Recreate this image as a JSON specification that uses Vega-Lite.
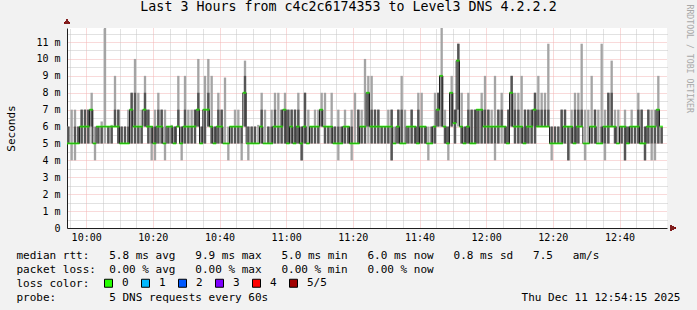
{
  "$schema": "https://vega.github.io/schema/vega-lite/v6.json",
  "width": 600,
  "height": 200,
  "autosize": "none",
  "padding": {"left": 67, "top": 28, "right": 30, "bottom": 82},
  "background": "#f2f2f2",
  "config": {
    "view": {"fill": "white", "stroke": null},
    "font": "DejaVu Sans Mono"
  },
  "title": {
    "text": "Last 3 Hours from c4c2c6174353 to Level3 DNS 4.2.2.2",
    "font": "DejaVu Sans Mono",
    "fontSize": 13.3,
    "fontWeight": "normal",
    "color": "black",
    "anchor": "middle",
    "frame": "group",
    "dx": -18.5,
    "offset": -20,
    "baseline": "alphabetic"
  },
  "data": {
    "format": {"parse": {"t": "date:'%H:%M'"}},
    "values": [
      {"t":"09:54","lo":5,"q1":5,"med":5,"q3":6,"hi":6},
      {"t":"09:55","lo":4,"q1":5,"med":5,"q3":5,"hi":7},
      {"t":"09:56","lo":4,"q1":5,"med":5,"q3":6,"hi":7},
      {"t":"09:57","lo":5,"q1":5,"med":5,"q3":6,"hi":6},
      {"t":"09:58","lo":5,"q1":5,"med":6,"q3":7,"hi":7},
      {"t":"09:59","lo":5,"q1":5,"med":6,"q3":7,"hi":7},
      {"t":"10:00","lo":5,"q1":5,"med":6,"q3":7,"hi":7},
      {"t":"10:01","lo":5,"q1":6,"med":7,"q3":7,"hi":8},
      {"t":"10:02","lo":4,"q1":5,"med":5,"q3":5,"hi":6},
      {"t":"10:03","lo":5,"q1":5,"med":6,"q3":6,"hi":6},
      {"t":"10:04","lo":5,"q1":5,"med":6,"q3":6,"hi":6.3},
      {"t":"10:05","lo":5,"q1":6,"med":6,"q3":6,"hi":11.9},
      {"t":"10:06","lo":5,"q1":5,"med":6,"q3":6,"hi":6},
      {"t":"10:07","lo":5,"q1":5,"med":6,"q3":6,"hi":6.1},
      {"t":"10:08","lo":6,"q1":6,"med":6,"q3":7,"hi":9},
      {"t":"10:09","lo":5,"q1":5,"med":6,"q3":7,"hi":7},
      {"t":"10:10","lo":5,"q1":5,"med":5,"q3":6,"hi":6},
      {"t":"10:11","lo":5,"q1":5,"med":5,"q3":6,"hi":6},
      {"t":"10:12","lo":5,"q1":5,"med":5,"q3":6,"hi":7},
      {"t":"10:13","lo":5,"q1":5,"med":7,"q3":8,"hi":8},
      {"t":"10:14","lo":5,"q1":5,"med":6,"q3":8,"hi":10},
      {"t":"10:15","lo":5,"q1":5,"med":6,"q3":6,"hi":8},
      {"t":"10:16","lo":5,"q1":5,"med":6,"q3":6,"hi":7},
      {"t":"10:17","lo":6,"q1":6,"med":7,"q3":8,"hi":9},
      {"t":"10:18","lo":5,"q1":5,"med":6,"q3":7,"hi":7},
      {"t":"10:19","lo":4,"q1":5,"med":6,"q3":6,"hi":6},
      {"t":"10:20","lo":4,"q1":5,"med":5,"q3":6,"hi":7},
      {"t":"10:21","lo":5,"q1":5,"med":6,"q3":7,"hi":8},
      {"t":"10:22","lo":5,"q1":5,"med":6,"q3":7,"hi":7},
      {"t":"10:23","lo":4,"q1":5,"med":5,"q3":5,"hi":7},
      {"t":"10:24","lo":5,"q1":5,"med":6,"q3":6,"hi":6},
      {"t":"10:25","lo":5,"q1":5,"med":6,"q3":6,"hi":6.1},
      {"t":"10:26","lo":5,"q1":5,"med":5,"q3":6,"hi":6},
      {"t":"10:27","lo":6,"q1":6,"med":6,"q3":7,"hi":9},
      {"t":"10:28","lo":4,"q1":5,"med":5,"q3":6,"hi":6},
      {"t":"10:29","lo":5,"q1":5,"med":6,"q3":7,"hi":9},
      {"t":"10:30","lo":5,"q1":5,"med":6,"q3":6,"hi":7},
      {"t":"10:31","lo":5,"q1":5,"med":6,"q3":6,"hi":7},
      {"t":"10:32","lo":5,"q1":5,"med":6,"q3":7,"hi":7},
      {"t":"10:33","lo":6,"q1":6,"med":7,"q3":8,"hi":10},
      {"t":"10:34","lo":5,"q1":5,"med":5,"q3":6,"hi":6},
      {"t":"10:35","lo":5,"q1":5,"med":7,"q3":7,"hi":9},
      {"t":"10:36","lo":6,"q1":6,"med":7,"q3":8,"hi":10},
      {"t":"10:37","lo":5,"q1":5,"med":6,"q3":6,"hi":9},
      {"t":"10:38","lo":5,"q1":5,"med":5,"q3":6,"hi":6},
      {"t":"10:39","lo":5,"q1":5,"med":6,"q3":7,"hi":8},
      {"t":"10:40","lo":5,"q1":5,"med":6,"q3":7,"hi":7},
      {"t":"10:41","lo":5,"q1":5,"med":5,"q3":5,"hi":8.9},
      {"t":"10:42","lo":4,"q1":5,"med":5,"q3":5,"hi":6},
      {"t":"10:43","lo":5,"q1":5,"med":6,"q3":6,"hi":6},
      {"t":"10:44","lo":5,"q1":5,"med":6,"q3":6,"hi":7},
      {"t":"10:45","lo":5,"q1":5,"med":6,"q3":6,"hi":7},
      {"t":"10:46","lo":4,"q1":5,"med":6,"q3":6,"hi":6},
      {"t":"10:47","lo":6,"q1":6,"med":8,"q3":9,"hi":9.9},
      {"t":"10:48","lo":4,"q1":5,"med":5,"q3":6,"hi":6},
      {"t":"10:49","lo":5,"q1":5,"med":5,"q3":6,"hi":6},
      {"t":"10:50","lo":5,"q1":5,"med":5,"q3":6,"hi":6},
      {"t":"10:51","lo":5,"q1":5,"med":5,"q3":5,"hi":6.1},
      {"t":"10:52","lo":5,"q1":5,"med":6,"q3":7,"hi":8},
      {"t":"10:53","lo":5,"q1":5,"med":5,"q3":5,"hi":7},
      {"t":"10:54","lo":5,"q1":5,"med":5,"q3":6,"hi":6},
      {"t":"10:55","lo":5,"q1":5,"med":5,"q3":6,"hi":7},
      {"t":"10:56","lo":5,"q1":5,"med":6,"q3":7,"hi":8},
      {"t":"10:57","lo":5,"q1":5,"med":6,"q3":6,"hi":8},
      {"t":"10:58","lo":5,"q1":5,"med":6,"q3":7,"hi":7},
      {"t":"10:59","lo":5,"q1":5,"med":7,"q3":7,"hi":8},
      {"t":"11:00","lo":5,"q1":5,"med":5,"q3":7,"hi":7},
      {"t":"11:01","lo":5,"q1":5,"med":6,"q3":7,"hi":7},
      {"t":"11:02","lo":5,"q1":5,"med":5,"q3":7,"hi":7},
      {"t":"11:03","lo":5,"q1":5,"med":6,"q3":7,"hi":8},
      {"t":"11:04","lo":4,"q1":4,"med":5,"q3":6,"hi":6},
      {"t":"11:05","lo":5,"q1":5,"med":6,"q3":8,"hi":8},
      {"t":"11:06","lo":5,"q1":5,"med":5,"q3":5,"hi":7},
      {"t":"11:07","lo":5,"q1":5,"med":6,"q3":6,"hi":6},
      {"t":"11:08","lo":5,"q1":5,"med":6,"q3":6,"hi":7},
      {"t":"11:09","lo":5,"q1":5,"med":6,"q3":6,"hi":7},
      {"t":"11:10","lo":6,"q1":6,"med":7,"q3":7,"hi":8},
      {"t":"11:11","lo":5,"q1":5,"med":6,"q3":6,"hi":8},
      {"t":"11:12","lo":5,"q1":5,"med":6,"q3":6,"hi":6},
      {"t":"11:13","lo":5,"q1":5,"med":6,"q3":6,"hi":8},
      {"t":"11:14","lo":5,"q1":5,"med":5,"q3":6,"hi":6},
      {"t":"11:15","lo":4,"q1":5,"med":5,"q3":6,"hi":7},
      {"t":"11:16","lo":5,"q1":5,"med":5,"q3":6,"hi":6},
      {"t":"11:17","lo":5,"q1":5,"med":6,"q3":6,"hi":7},
      {"t":"11:18","lo":5,"q1":5,"med":6,"q3":6,"hi":6},
      {"t":"11:19","lo":4,"q1":5,"med":5,"q3":6,"hi":7},
      {"t":"11:20","lo":5,"q1":5,"med":5,"q3":5,"hi":8},
      {"t":"11:21","lo":5,"q1":5,"med":5,"q3":7,"hi":7},
      {"t":"11:22","lo":5,"q1":5,"med":6,"q3":6,"hi":7},
      {"t":"11:23","lo":5,"q1":5,"med":6,"q3":6,"hi":10},
      {"t":"11:24","lo":5,"q1":6,"med":8,"q3":8,"hi":9},
      {"t":"11:25","lo":5,"q1":5,"med":6,"q3":7,"hi":9},
      {"t":"11:26","lo":5,"q1":5,"med":6,"q3":7,"hi":7},
      {"t":"11:27","lo":5,"q1":5,"med":6,"q3":7,"hi":7},
      {"t":"11:28","lo":5,"q1":5,"med":6,"q3":6,"hi":6},
      {"t":"11:29","lo":5,"q1":5,"med":6,"q3":6,"hi":6},
      {"t":"11:30","lo":5,"q1":5,"med":6,"q3":6,"hi":7},
      {"t":"11:31","lo":4,"q1":4,"med":6,"q3":7,"hi":7},
      {"t":"11:32","lo":5,"q1":5,"med":5,"q3":5,"hi":6},
      {"t":"11:33","lo":5,"q1":5,"med":6,"q3":7,"hi":7},
      {"t":"11:34","lo":5,"q1":5,"med":5,"q3":7,"hi":9},
      {"t":"11:35","lo":5,"q1":5,"med":5,"q3":5,"hi":7},
      {"t":"11:36","lo":5,"q1":5,"med":6,"q3":6,"hi":6},
      {"t":"11:37","lo":5,"q1":5,"med":6,"q3":7,"hi":7},
      {"t":"11:38","lo":5,"q1":5,"med":6,"q3":6,"hi":6},
      {"t":"11:39","lo":5,"q1":5,"med":5,"q3":7,"hi":8},
      {"t":"11:40","lo":5,"q1":5,"med":6,"q3":6,"hi":8},
      {"t":"11:41","lo":5,"q1":5,"med":6,"q3":6,"hi":6},
      {"t":"11:42","lo":4,"q1":5,"med":5,"q3":5,"hi":6},
      {"t":"11:43","lo":5,"q1":5,"med":5,"q3":6,"hi":6},
      {"t":"11:44","lo":5,"q1":5,"med":6,"q3":6,"hi":8},
      {"t":"11:45","lo":6,"q1":6,"med":7,"q3":8,"hi":8},
      {"t":"11:46","lo":6,"q1":6,"med":9,"q3":9,"hi":11.9},
      {"t":"11:47","lo":5,"q1":5,"med":6,"q3":6,"hi":7},
      {"t":"11:48","lo":4,"q1":5,"med":5,"q3":6,"hi":6},
      {"t":"11:49","lo":6,"q1":6,"med":8,"q3":8,"hi":9},
      {"t":"11:50","lo":5,"q1":5,"med":6.2,"q3":7,"hi":7},
      {"t":"11:51","lo":6,"q1":7,"med":9.9,"q3":10.9,"hi":10.9},
      {"t":"11:52","lo":5,"q1":5,"med":6,"q3":6,"hi":8},
      {"t":"11:53","lo":5,"q1":5,"med":5,"q3":6,"hi":6},
      {"t":"11:54","lo":5,"q1":5,"med":6,"q3":7,"hi":8},
      {"t":"11:55","lo":5,"q1":5,"med":5,"q3":7,"hi":7},
      {"t":"11:56","lo":5,"q1":5,"med":5,"q3":7,"hi":7},
      {"t":"11:57","lo":5,"q1":5,"med":7,"q3":7,"hi":7},
      {"t":"11:58","lo":5,"q1":5,"med":7,"q3":7,"hi":8},
      {"t":"11:59","lo":5,"q1":5,"med":6,"q3":7,"hi":9},
      {"t":"12:00","lo":5,"q1":5,"med":6,"q3":7,"hi":7},
      {"t":"12:01","lo":5,"q1":5,"med":6,"q3":6,"hi":7},
      {"t":"12:02","lo":4,"q1":5,"med":6,"q3":6,"hi":9},
      {"t":"12:03","lo":5,"q1":5,"med":6,"q3":7,"hi":7},
      {"t":"12:04","lo":5,"q1":6,"med":6,"q3":7,"hi":8},
      {"t":"12:05","lo":5,"q1":5,"med":6,"q3":6,"hi":6},
      {"t":"12:06","lo":5,"q1":5,"med":5,"q3":7,"hi":7},
      {"t":"12:07","lo":6,"q1":6,"med":8,"q3":9,"hi":9},
      {"t":"12:08","lo":5,"q1":5,"med":6,"q3":7,"hi":8},
      {"t":"12:09","lo":5,"q1":5,"med":6,"q3":7,"hi":8},
      {"t":"12:10","lo":5,"q1":5,"med":6,"q3":6,"hi":9},
      {"t":"12:11","lo":5,"q1":5,"med":5,"q3":7,"hi":7},
      {"t":"12:12","lo":5,"q1":5,"med":6,"q3":7,"hi":7},
      {"t":"12:13","lo":5,"q1":5,"med":6,"q3":7,"hi":7},
      {"t":"12:14","lo":5,"q1":5,"med":7,"q3":8,"hi":8},
      {"t":"12:15","lo":6,"q1":6,"med":6,"q3":7,"hi":9},
      {"t":"12:16","lo":6,"q1":6,"med":6,"q3":7,"hi":8},
      {"t":"12:17","lo":6,"q1":6,"med":6,"q3":7,"hi":8},
      {"t":"12:18","lo":6,"q1":6,"med":6,"q3":7,"hi":10.9},
      {"t":"12:19","lo":4,"q1":5,"med":5,"q3":6,"hi":6},
      {"t":"12:20","lo":5,"q1":5,"med":5,"q3":6,"hi":6},
      {"t":"12:21","lo":5,"q1":5,"med":5,"q3":6,"hi":6},
      {"t":"12:22","lo":5,"q1":5,"med":5,"q3":7,"hi":7},
      {"t":"12:23","lo":5,"q1":5,"med":6,"q3":7,"hi":7},
      {"t":"12:24","lo":4,"q1":4,"med":6,"q3":6,"hi":6},
      {"t":"12:25","lo":5,"q1":5,"med":6,"q3":6,"hi":7},
      {"t":"12:26","lo":5,"q1":5,"med":5,"q3":7,"hi":8},
      {"t":"12:27","lo":5,"q1":5,"med":6,"q3":7,"hi":8},
      {"t":"12:28","lo":6,"q1":6,"med":6,"q3":7,"hi":10.9},
      {"t":"12:29","lo":4,"q1":5,"med":5,"q3":5,"hi":7},
      {"t":"12:30","lo":5,"q1":5,"med":5,"q3":5,"hi":7},
      {"t":"12:31","lo":5,"q1":5,"med":6,"q3":6,"hi":9},
      {"t":"12:32","lo":5,"q1":5,"med":6,"q3":7,"hi":7},
      {"t":"12:33","lo":5,"q1":5,"med":5,"q3":5,"hi":7},
      {"t":"12:34","lo":5,"q1":5,"med":5,"q3":6,"hi":10.9},
      {"t":"12:35","lo":4,"q1":5,"med":6,"q3":6,"hi":7},
      {"t":"12:36","lo":5,"q1":5,"med":6,"q3":8,"hi":8},
      {"t":"12:37","lo":6,"q1":6,"med":6,"q3":8,"hi":9.9},
      {"t":"12:38","lo":5,"q1":5,"med":6,"q3":6,"hi":7},
      {"t":"12:39","lo":5,"q1":5,"med":5,"q3":5,"hi":7},
      {"t":"12:40","lo":5,"q1":5,"med":6,"q3":6,"hi":6},
      {"t":"12:41","lo":4,"q1":4,"med":6,"q3":6,"hi":7},
      {"t":"12:42","lo":5,"q1":5,"med":5,"q3":6,"hi":6},
      {"t":"12:43","lo":5,"q1":5,"med":6,"q3":6,"hi":7},
      {"t":"12:44","lo":5,"q1":5,"med":6,"q3":6,"hi":6},
      {"t":"12:45","lo":5,"q1":5,"med":6,"q3":7,"hi":8},
      {"t":"12:46","lo":5,"q1":5,"med":5,"q3":7,"hi":7},
      {"t":"12:47","lo":4,"q1":4,"med":5,"q3":6,"hi":6},
      {"t":"12:48","lo":5,"q1":5,"med":6,"q3":7,"hi":7},
      {"t":"12:49","lo":4,"q1":5,"med":6,"q3":6,"hi":7},
      {"t":"12:50","lo":4,"q1":5,"med":6,"q3":6,"hi":7},
      {"t":"12:51","lo":5,"q1":5,"med":7,"q3":7,"hi":9},
      {"t":"12:52","lo":5,"q1":5,"med":6,"q3":6,"hi":6}
    ]
  },
  "resolve": {"axis": {"x": "independent", "y": "independent"}},
  "layer": [
    {
      "mark": {"type": "bar", "color": "#a4a4a4", "clip": true},
      "encoding": {
        "x": {
          "field": "t", "timeUnit": "yearmonthdatehoursminutes", "type": "temporal",
          "scale": {"domain": [
            {"year": 1900, "month": 1, "date": 1, "hours": 9, "minutes": 54, "seconds": 15},
            {"year": 1900, "month": 1, "date": 1, "hours": 12, "minutes": 54, "seconds": 15}
          ]},
          "axis": {
            "orient": "top",
            "values": [
              {"year":1900,"month":1,"date":1,"hours":9,"minutes":55},
              {"year":1900,"month":1,"date":1,"hours":10,"minutes":5},
              {"year":1900,"month":1,"date":1,"hours":10,"minutes":10},
              {"year":1900,"month":1,"date":1,"hours":10,"minutes":15},
              {"year":1900,"month":1,"date":1,"hours":10,"minutes":25},
              {"year":1900,"month":1,"date":1,"hours":10,"minutes":30},
              {"year":1900,"month":1,"date":1,"hours":10,"minutes":35},
              {"year":1900,"month":1,"date":1,"hours":10,"minutes":45},
              {"year":1900,"month":1,"date":1,"hours":10,"minutes":50},
              {"year":1900,"month":1,"date":1,"hours":10,"minutes":55},
              {"year":1900,"month":1,"date":1,"hours":11,"minutes":5},
              {"year":1900,"month":1,"date":1,"hours":11,"minutes":10},
              {"year":1900,"month":1,"date":1,"hours":11,"minutes":15},
              {"year":1900,"month":1,"date":1,"hours":11,"minutes":25},
              {"year":1900,"month":1,"date":1,"hours":11,"minutes":30},
              {"year":1900,"month":1,"date":1,"hours":11,"minutes":35},
              {"year":1900,"month":1,"date":1,"hours":11,"minutes":45},
              {"year":1900,"month":1,"date":1,"hours":11,"minutes":50},
              {"year":1900,"month":1,"date":1,"hours":11,"minutes":55},
              {"year":1900,"month":1,"date":1,"hours":12,"minutes":5},
              {"year":1900,"month":1,"date":1,"hours":12,"minutes":10},
              {"year":1900,"month":1,"date":1,"hours":12,"minutes":15},
              {"year":1900,"month":1,"date":1,"hours":12,"minutes":25},
              {"year":1900,"month":1,"date":1,"hours":12,"minutes":30},
              {"year":1900,"month":1,"date":1,"hours":12,"minutes":35},
              {"year":1900,"month":1,"date":1,"hours":12,"minutes":45},
              {"year":1900,"month":1,"date":1,"hours":12,"minutes":50}
            ],
            "grid": true, "gridColor": "#c4c4c4", "gridDash": [1, 1],
            "labels": false, "ticks": false, "domain": false,
            "title": "Thu Dec 11 12:54:15 2025",
            "titleFont": "DejaVu Sans Mono", "titleFontSize": 11, "titleFontWeight": "normal", "titleColor": "black",
            "titleAlign": "right", "titleAnchor": "end", "titleBaseline": "alphabetic",
            "titleX": 613, "titleY": 272
          }
        },
        "y": {
          "field": "lo", "type": "quantitative",
          "scale": {"domain": [0, 11.83], "nice": false, "zero": false},
          "axis": {
            "orient": "right",
            "values": [0.5, 1.5, 2.5, 3.5, 4.5, 5.5, 6.5, 7.5, 8.5, 9.5, 10.5, 11.5],
            "grid": true, "gridColor": "#c4c4c4", "gridDash": [1, 1],
            "labels": false, "ticks": false, "domain": false,
            "title": "RRDTOOL / TOBI OETIKER",
            "titleFont": "DejaVu Sans Mono", "titleFontSize": 8.2, "titleFontWeight": "normal", "titleColor": "#a8a8a8",
            "titleAngle": 90, "titleAlign": "left", "titleBaseline": "middle",
            "titleX": 21, "titleY": -24
          }
        },
        "y2": {"field": "hi"}
      }
    },
    {
      "mark": {"type": "bar", "color": "#555555", "clip": true},
      "encoding": {
        "x": {
          "field": "t", "timeUnit": "yearmonthdatehoursminutes", "type": "temporal",
          "axis": {
            "orient": "bottom",
            "format": "%H:%M",
            "values": [
              {"year":1900,"month":1,"date":1,"hours":10,"minutes":0},
              {"year":1900,"month":1,"date":1,"hours":10,"minutes":20},
              {"year":1900,"month":1,"date":1,"hours":10,"minutes":40},
              {"year":1900,"month":1,"date":1,"hours":11,"minutes":0},
              {"year":1900,"month":1,"date":1,"hours":11,"minutes":20},
              {"year":1900,"month":1,"date":1,"hours":11,"minutes":40},
              {"year":1900,"month":1,"date":1,"hours":12,"minutes":0},
              {"year":1900,"month":1,"date":1,"hours":12,"minutes":20},
              {"year":1900,"month":1,"date":1,"hours":12,"minutes":40}
            ],
            "grid": true, "gridColor": "#f2b4b4", "gridDash": [1, 1],
            "ticks": false, "labelOverlap": false, "labelFlush": false,
            "labelFont": "DejaVu Sans Mono", "labelFontSize": 10, "labelColor": "black", "labelPadding": 4,
            "domainColor": "#1f1f1f",
            "title": [
              "median rtt:\u00a0\u00a0\u00a05.8 ms avg\u00a0\u00a0\u00a09.9 ms max\u00a0\u00a0\u00a05.0 ms min\u00a0\u00a0\u00a06.0 ms now\u00a0\u00a0\u00a00.8 ms sd\u00a0\u00a0\u00a07.5\u00a0\u00a0\u00a0am/s",
              "packet loss:\u00a0\u00a00.00 % avg\u00a0\u00a0\u00a00.00 % max\u00a0\u00a0\u00a00.00 % min\u00a0\u00a0\u00a00.00 % now",
              "loss color:",
              "probe:\u00a0\u00a0\u00a0\u00a0\u00a0\u00a0\u00a0\u00a05 DNS requests every 60s"
            ],
            "titleFont": "DejaVu Sans Mono", "titleFontSize": 11, "titleFontWeight": "normal", "titleColor": "black",
            "titleAlign": "left", "titleAnchor": "start", "titleBaseline": "alphabetic", "titleLineHeight": 14,
            "titleX": -51, "titleY": 30.5
          }
        },
        "y": {
          "field": "q1", "type": "quantitative",
          "axis": {
            "orient": "left",
            "values": [0, 1, 2, 3, 4, 5, 6, 7, 8, 9, 10, 11],
            "labelExpr": "datum.value == 0 ? '0' : datum.value + ' m'",
            "grid": true, "gridColor": "#f2b4b4", "gridDash": [1, 1],
            "ticks": false, "labelFont": "DejaVu Sans Mono", "labelFontSize": 10, "labelColor": "black", "labelPadding": 7,
            "domainColor": "#1f1f1f",
            "title": "Seconds",
            "titleFont": "DejaVu Sans Mono", "titleFontSize": 11, "titleFontWeight": "normal", "titleColor": "black",
            "titleAngle": -90, "titleAlign": "center", "titleBaseline": "middle",
            "titleX": -56, "titleY": 100
          }
        },
        "y2": {"field": "q3"}
      }
    },
    {
      "mark": {"type": "line", "interpolate": "step-after", "color": "#202020", "strokeWidth": 1, "clip": true},
      "encoding": {
        "x": {"field": "t", "type": "temporal", "axis": null},
        "y": {"field": "med", "type": "quantitative", "axis": null}
      }
    },
    {
      "mark": {"type": "tick", "orient": "horizontal", "thickness": 2, "size": 3.4, "clip": true},
      "encoding": {
        "x": {"field": "t", "timeUnit": "yearmonthdatehoursminutes", "type": "temporal", "bandPosition": 0.5, "axis": null},
        "y": {"field": "med", "type": "quantitative", "axis": null},
        "color": {
          "datum": "0", "type": "nominal",
          "scale": {
            "domain": ["0", "1", "2", "3", "4", "5/5"],
            "range": ["#26ff00", "#00b8ff", "#0059ff", "#7e00ff", "#ff0000", "#a10000"]
          },
          "legend": {
            "orient": "none", "legendX": 36, "legendY": 249.5,
            "direction": "horizontal", "title": null,
            "labelFont": "DejaVu Sans Mono", "labelFontSize": 11, "labelColor": "black",
            "symbolType": "square", "symbolSize": 64, "symbolStrokeColor": "black", "symbolStrokeWidth": 1,
            "symbolOpacity": 1, "labelOffset": 8, "columnPadding": 10, "padding": 0
          }
        }
      }
    },
    {
      "mark": {"type": "point", "shape": "triangle-up", "filled": true, "color": "#801f1f", "size": 30, "opacity": 1, "clip": false},
      "encoding": {
        "x": {"datum": {"year": 1900, "month": 1, "date": 1, "hours": 9, "minutes": 54, "seconds": 15}, "type": "temporal", "axis": null},
        "y": {"datum": 12.2, "type": "quantitative", "axis": null}
      }
    },
    {
      "mark": {"type": "point", "shape": "triangle-right", "filled": true, "color": "#801f1f", "size": 30, "opacity": 1, "clip": false},
      "encoding": {
        "x": {"datum": {"year": 1900, "month": 1, "date": 1, "hours": 12, "minutes": 56, "seconds": 0}, "type": "temporal", "axis": null},
        "y": {"datum": 0, "type": "quantitative", "axis": null}
      }
    }
  ]
}
